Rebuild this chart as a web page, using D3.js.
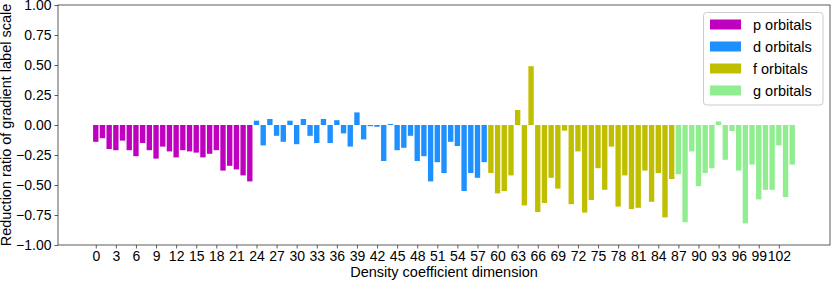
<!DOCTYPE html>
<html>
<head>
<meta charset="utf-8">
<script src="https://cdn.jsdelivr.net/npm/d3@7"></script>
<style>
  body { margin: 0; background: #fff; }
  svg { font-family: "Liberation Sans", Arial, Helvetica, sans-serif; }
</style>
</head>
<body>
<div id="grafico"></div>
<script>
// valores, por grupo de orbitales
const pValues = [-0.14, -0.11, -0.20, -0.21, -0.13, -0.21, -0.26, -0.15, -0.21, -0.28,
  -0.18, -0.22, -0.27, -0.21, -0.22, -0.23, -0.27, -0.24, -0.21, -0.38,
  -0.34, -0.37, -0.42, -0.47];
const dValues = [0.036, -0.17, 0.05, -0.09, -0.14, 0.036, -0.16, 0.05, -0.09, -0.15,
  0.05, -0.15, 0.04, -0.07, -0.18, 0.105, -0.12, -0.01, -0.015, -0.30,
  0.008, -0.21, -0.19, -0.09, -0.30, -0.26, -0.47, -0.31, -0.40, -0.14,
  -0.175, -0.55, -0.40, -0.44, -0.31];
const fValues = [-0.40, -0.57, -0.55, -0.42, 0.125, -0.67, 0.49, -0.725, -0.65, -0.44,
  -0.53, -0.047, -0.66, -0.22, -0.73, -0.625, -0.36, -0.54, -0.18, -0.68,
  -0.42, -0.70, -0.69, -0.38, -0.64, -0.40, -0.77, -0.45];
const gValues = [-0.41, -0.81, -0.22, -0.51, -0.40, -0.36, 0.03, -0.29, -0.05, -0.38,
  -0.82, -0.33, -0.62, -0.54, -0.54, -0.17, -0.60, -0.33];

const groupNames = ["p orbitals", "d orbitals", "f orbitals", "g orbitals"];
const groupColors = ["#bf00bf", "#1e90ff", "#bfbf00", "#90ee90"];
const yTicks = [1.00, 0.75, 0.50, 0.25, 0.00, -0.25, -0.50, -0.75, -1.00];
const xTicks = d3.range(0, 103, 3);

// armar la tabla de barras
const dataset = [];
[pValues, dValues, fValues, gValues].forEach((vals, g) => {
  vals.forEach(v => dataset.push({ idx: dataset.length, valor: v, grupo: g }));
});

const width = 831;
const height = 281;
const margin = { top: 5, right: 1, bottom: 36, left: 58 };

const svg = d3.select("#grafico")
  .append("svg")
  .attr("width", width)
  .attr("height", height);

const n = dataset.length;
const pad = 0.05 * (n - 1 + 0.8);
const x = d3.scaleLinear()
  .domain([-0.4 - pad, n - 1 + 0.4 + pad])
  .range([margin.left, width - margin.right]);

const y = d3.scaleLinear()
  .domain([-1, 1])
  .range([height - margin.bottom, margin.top]);

const barW = x(0.8) - x(0);

// Barras
svg.append("g")
  .selectAll("rect")
  .data(dataset)
  .join("rect")
  .attr("x", d => x(d.idx) - barW / 2)
  .attr("y", d => y(Math.max(0, d.valor)))
  .attr("width", barW)
  .attr("height", d => Math.abs(y(d.valor) - y(0)))
  .attr("fill", d => groupColors[d.grupo]);

// Ejes
const xAxis = svg.append("g")
  .attr("transform", `translate(0,${height - margin.bottom})`)
  .call(d3.axisBottom(x).tickValues(xTicks).tickSize(3.5).tickPadding(3).tickFormat(d3.format("d")));

const yAxis = svg.append("g")
  .attr("transform", `translate(${margin.left},0)`)
  .call(d3.axisLeft(y).tickValues(yTicks).tickSize(3.5).tickPadding(3).tickFormat(d => d3.format(".2f")(d).replace("-", "\u2212")));

[xAxis, yAxis].forEach(a => {
  a.select(".domain").remove();
  a.selectAll("line").attr("stroke", "#333").attr("stroke-width", 0.8);
  a.selectAll("text").attr("fill", "#000").style("font-size", "14px")
    .style("font-family", "'Liberation Sans', Arial, sans-serif");
});

// marco
svg.append("rect")
  .attr("x", margin.left)
  .attr("y", margin.top)
  .attr("width", width - margin.right - margin.left)
  .attr("height", height - margin.bottom - margin.top)
  .attr("fill", "none")
  .attr("stroke", "#333")
  .attr("stroke-width", 0.8);

// Titulos de ejes
svg.append("text")
  .attr("x", (margin.left + width - margin.right) / 2)
  .attr("y", 277)
  .attr("text-anchor", "middle")
  .style("font-size", "14.5px")
  .text("Density coefficient dimension");

svg.append("text")
  .attr("transform", `translate(11,${(margin.top + height - margin.bottom) / 2}) rotate(-90)`)
  .attr("text-anchor", "middle")
  .style("font-size", "14.5px")
  .text("Reduction ratio of gradient label scale");

// Leyenda
const legend = svg.append("g");
legend.append("rect")
  .attr("x", 703.5).attr("y", 12.5)
  .attr("width", 119.5).attr("height", 92.5)
  .attr("rx", 3)
  .attr("fill", "#fff").attr("fill-opacity", 0.8)
  .attr("stroke", "#ccc");

groupNames.forEach((name, i) => {
  const cy = 24.5 + i * 22;
  legend.append("rect")
    .attr("x", 710).attr("y", cy - 5)
    .attr("width", 31).attr("height", 10)
    .attr("fill", groupColors[i]);
  legend.append("text")
    .attr("x", 753).attr("y", cy + 5)
    .style("font-size", "14.5px")
    .text(name);
});
</script>
</body>
</html>
